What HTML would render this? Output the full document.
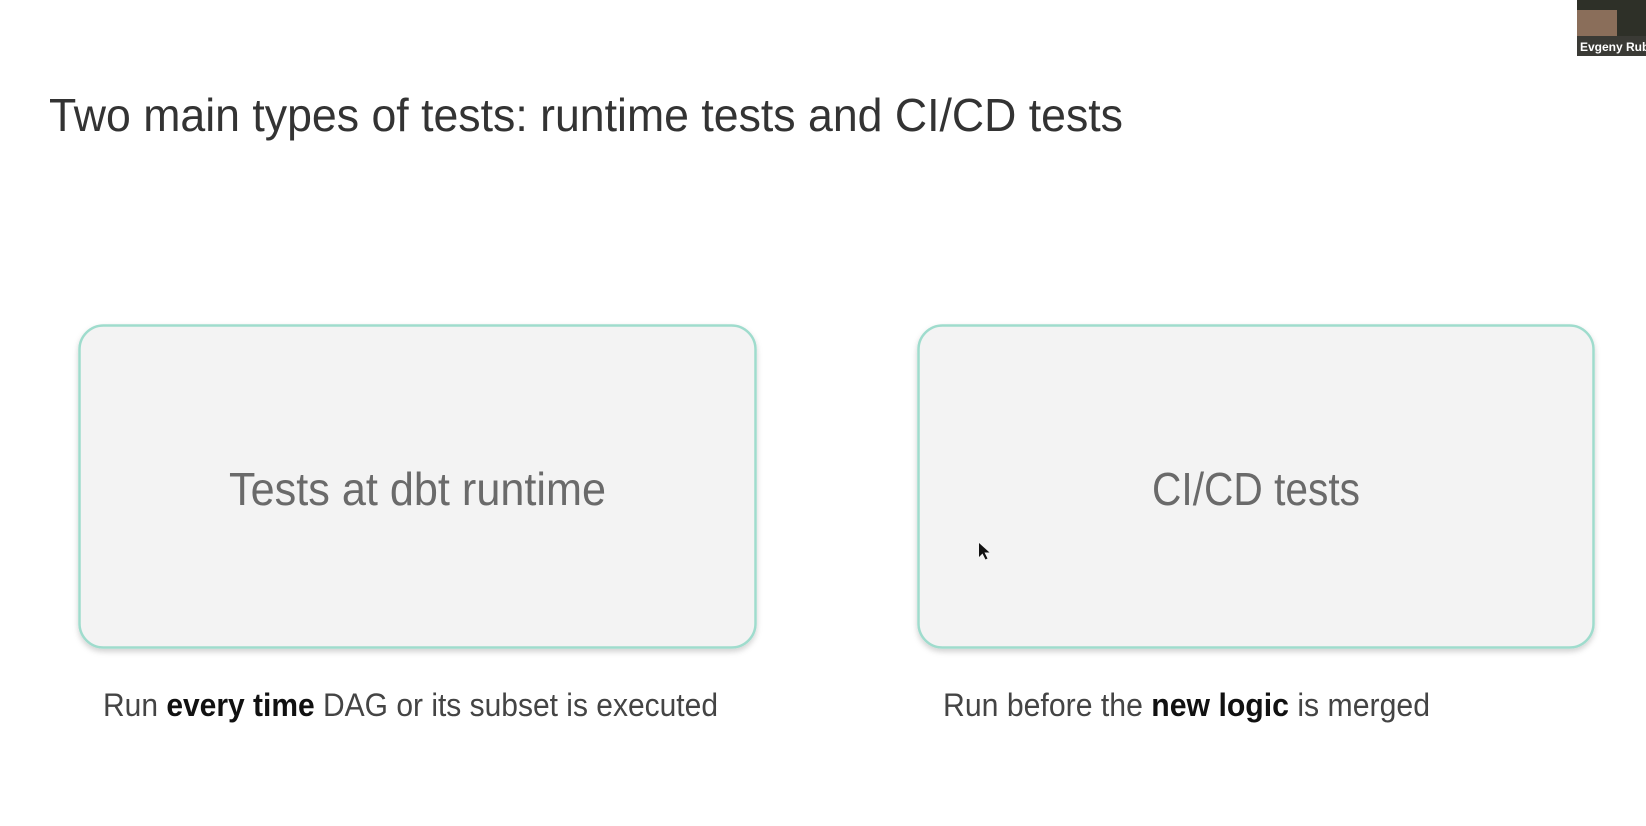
<!DOCTYPE html>
<html><head><meta charset="utf-8"><style>
html,body{margin:0;padding:0;background:#fff;width:1646px;height:826px;overflow:hidden}
</style></head><body>
<svg width="1646" height="826" xmlns="http://www.w3.org/2000/svg" style="display:block">
<defs>
<filter id="sh" x="-5%" y="-5%" width="110%" height="115%">
<feDropShadow dx="0" dy="3" stdDeviation="3" flood-color="#000" flood-opacity="0.18"/>
</filter>
</defs>
<rect width="1646" height="826" fill="#fff"/>
<text x="49" y="131" font-family="Liberation Sans, sans-serif" font-size="46" fill="#333" textLength="1074" lengthAdjust="spacingAndGlyphs">Two main types of tests: runtime tests and CI/CD tests</text>
<rect x="79.5" y="325.5" width="676" height="322" rx="24" fill="#f3f3f3" stroke="#9fdccd" stroke-width="2.5" filter="url(#sh)"/>
<rect x="918.5" y="325.5" width="675" height="322" rx="24" fill="#f3f3f3" stroke="#9fdccd" stroke-width="2.5" filter="url(#sh)"/>
<text x="229" y="505" font-family="Liberation Sans, sans-serif" font-size="46" fill="#6a6a6a" textLength="377" lengthAdjust="spacingAndGlyphs">Tests at dbt runtime</text>
<text x="1152" y="505" font-family="Liberation Sans, sans-serif" font-size="46" fill="#6a6a6a" textLength="208" lengthAdjust="spacingAndGlyphs">CI/CD tests</text>
<text x="103" y="716" font-family="Liberation Sans, sans-serif" font-size="32" fill="#444" textLength="615" lengthAdjust="spacingAndGlyphs">Run <tspan font-weight="bold" fill="#111">every time</tspan> DAG or its subset is executed</text>
<text x="943" y="716" font-family="Liberation Sans, sans-serif" font-size="32" fill="#444" textLength="487" lengthAdjust="spacingAndGlyphs">Run before the <tspan font-weight="bold" fill="#111">new logic</tspan> is merged</text>
<path d="M979 543 l0 14 l3.5 -3.5 l3 6 l2 -1 l-3 -6 l5 0 z" fill="#111"/>
<rect x="1577" y="0" width="69" height="56" fill="#2e3028"/>
<rect x="1577" y="10" width="40" height="26" fill="#8a6e5a"/>
<rect x="1577" y="36" width="69" height="20" fill="#3a3a35"/>
<text x="1580" y="51" font-family="Liberation Sans, sans-serif" font-size="12" font-weight="bold" fill="#fff">Evgeny Rub</text>
</svg>
</body></html>
